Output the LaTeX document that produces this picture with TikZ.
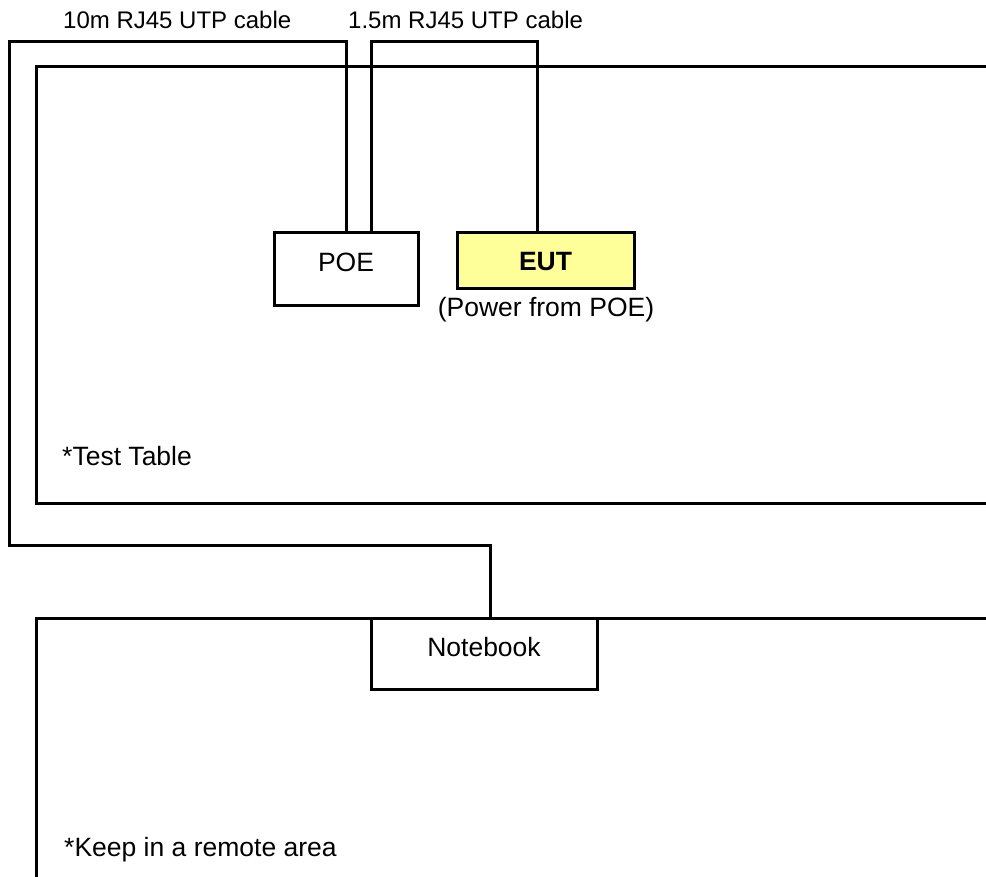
\documentclass[tikz,border=0pt]{standalone}
\usepackage{fontspec}
\setmainfont{Liberation Sans}
\begin{document}
\begin{tikzpicture}[x=1pt,y=-1pt,
  area/.style={draw, line width=3pt, rectangle, inner sep=0pt},
  box/.style={draw, line width=3pt, rectangle, inner sep=0pt, fill=white},
  lbl/.style={inner sep=0pt, anchor=base, font=\fontsize{26.5}{30}\selectfont},
  toplbl/.style={inner sep=0pt, anchor=base west, font=\fontsize{24}{28}\selectfont},
  cable/.style={line width=3pt, line join=miter}]
\definecolor{eutyellow}{HTML}{FFFF99}
\clip (0,0) rectangle (986,877);
\fill[white] (0,0) rectangle (986,877);
% areas
\node[area, minimum width=974pt, minimum height=436pt] (table) at (523,285) {};
\node[area, minimum width=974pt, minimum height=282pt] (remote) at (523,759) {};
% devices
\node[box, minimum width=144pt, minimum height=73pt] (poe) at (346,269.5) {};
\node[box, fill=eutyellow, minimum width=177pt, minimum height=56pt] (eut) at (545.5,261) {};
\node[box, minimum width=226pt, minimum height=71pt] (nb) at (484,653.5) {};
% cable routing points
\coordinate (a1) at (9,42);
\coordinate (a2) at (9,545);
\coordinate (a3) at (490,545);
\coordinate (b1) at (371,42);
\coordinate (b2) at (537,42);
% 10m cable
\draw[cable] (poe.north) -- (poe.north |- a1) -- (a1) -- (a2) -- (a3) -- (a3 |- nb.north);
% 1.5m cable
\draw[cable] (b1 |- poe.north) -- (b1) -- (b2) -- (b2 |- eut.north);
% texts
\node[toplbl] (l10) at (63,29) {10m RJ45 UTP cable};
\node[toplbl] (l15) at (348,29) {1.5m RJ45 UTP cable};
\node[lbl] (tpoe) at (346,272) {POE};
\node[lbl] (teut) at (545.5,271) {\textbf{EUT}};
\node[lbl] (tpow) at (546,317) {(Power from POE)};
\node[lbl] (tnb) at (484,656) {Notebook};
\node[lbl, anchor=base west] (ttt) at (62,465) {*Test Table};
\node[lbl, anchor=base west] (tka) at (64,856) {*Keep in a remote area};
\end{tikzpicture}
\end{document}
